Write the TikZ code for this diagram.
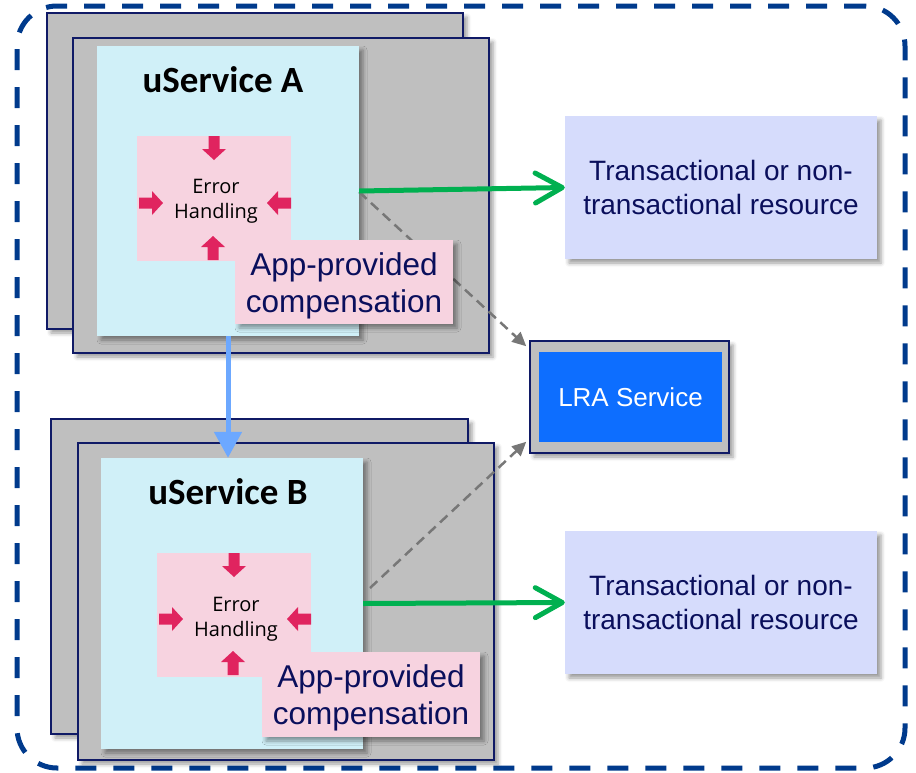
\documentclass[tikz,border=0pt]{standalone}
\usepackage{fontspec}
\setmainfont{Liberation Sans}
\newfontfamily\calfont{Carlito}
\newfontfamily\ehfont{Open Sans}
\usetikzlibrary{arrows.meta,shadows.blur,calc}
\definecolor{framenavy}{HTML}{003A8C}
\definecolor{boxedge}{HTML}{101A66}
\definecolor{grayfill}{HTML}{BFBFBF}
\definecolor{lightcyan}{HTML}{D0F0F8}
\definecolor{pinkfill}{HTML}{F7D3E0}
\definecolor{pinkarrow}{HTML}{E0245F}
\definecolor{textnavy}{HTML}{0A0F5C}
\definecolor{resfill}{HTML}{D6DCFC}
\definecolor{lrablue}{HTML}{0D6EFF}
\definecolor{greenarrow}{HTML}{00B050}
\definecolor{bluearrow}{HTML}{6CA8FF}
\definecolor{dashgray}{HTML}{777777}
\tikzset{
  shd/.style={blur shadow={shadow xshift=4pt,shadow yshift=-4pt,shadow blur radius=4pt}},
  gbox/.style={draw=boxedge,fill=grayfill,line width=1.5pt,inner sep=0pt,shd},
  cbox/.style={fill=lightcyan,inner sep=0pt,shd},
  pbox/.style={fill=pinkfill,inner sep=0pt},
  appbox/.style={fill=pinkfill,inner sep=0pt,shd},
  apptext/.style={text=textnavy,align=center,inner sep=0pt,
    font=\fontsize{31.5}{37}\selectfont},
  resbox/.style={fill=resfill,inner sep=0pt,shd,text=textnavy,align=center,
    font=\fontsize{28}{34}\selectfont},
  titletext/.style={font=\calfont\bfseries\fontsize{37}{42}\selectfont,inner sep=0pt},
  ehtext/.style={font=\ehfont\fontsize{20}{25}\selectfont,align=center,inner sep=0pt},
  perr/.pic={\fill[pinkarrow] (-5.5,0) -- (5.5,0) -- (5.5,13) -- (12,13) -- (0,24) -- (-12,13) -- (-5.5,13) -- cycle;},
  greenline/.style={draw=greenarrow,line width=5pt,
    -{Straight Barb[length=27pt,width=30pt,line cap=round,line join=round]}},
  blueline/.style={draw=bluearrow,line width=5pt,-{Triangle[length=26pt,width=27pt]}},
  grayline/.style={draw=dashgray,line width=2.5pt,dash pattern=on 10pt off 6pt,
    -{Triangle[length=14pt,width=13pt]}},
}
\begin{document}
\begin{tikzpicture}[x=1pt,y=-1pt]
\useasboundingbox (0,0) rectangle (916,772);
% outer frame
\node[name=frame,draw=framenavy,line width=5pt,dash pattern=on 21pt off 17pt,
  rounded corners=40pt,minimum width=888pt,minimum height=762pt,inner sep=0pt] at (461,387) {};
% block A
\node[gbox,minimum width=416pt,minimum height=316pt] (backA) at (255,171) {};
\node[gbox,minimum width=416pt,minimum height=315pt] (frontA) at (281,195.5) {};
\node[cbox,minimum width=262pt,minimum height=290pt] (uA) at (228,191) {};
% block B
\node[gbox,minimum width=417pt,minimum height=315pt] (backB) at (259.5,576.5) {};
\node[gbox,minimum width=416pt,minimum height=317pt] (frontB) at (286,601.5) {};
\node[cbox,minimum width=262pt,minimum height=291pt] (uB) at (232,603.5) {};
% resources and LRA
\node[resbox,minimum width=312pt,minimum height=143pt] (tA) at (721,187.5) {Transactional or non-\\transactional resource};
\node[resbox,minimum width=312pt,minimum height=143pt] (tB) at (721,602.5) {Transactional or non-\\transactional resource};
\node[gbox,minimum width=199pt,minimum height=112pt] (lra) at (629.5,397) {};
\node[fill=lrablue,minimum width=183pt,minimum height=90pt,inner sep=0pt,text=white,
  font=\fontsize{26}{30}\selectfont] (lrain) at (630.5,397) {LRA Service};
% dashed connectors to LRA
\coordinate (dA) at ($(uA.east)+(0,1)$);
\coordinate (dB) at (370,588);
\coordinate (eB) at ($(lra.south west)+(-3,-12)$);
\draw[grayline] (dA) -- ($(lra.north west)+(-3,6)$);
\draw[grayline] (dB) -- (eB);
% titles
\node[titletext] (titleA) at (223,80) {uService A};
\node[titletext] (titleB) at (228,492) {uService B};
% error handling A
\node[pbox,minimum width=154pt,minimum height=125pt] (pinkA) at (214,198.5) {};
\node[ehtext] (ehA) at (216,201) {Error\\Handling};
\pic at (214,136) {perr};
\pic[rotate=90] at (139,203) {perr};
\pic[rotate=-90] at (291,203) {perr};
\pic[rotate=180] at (213,260) {perr};
\node[appbox,minimum width=218pt,minimum height=84pt] (appA) at (344,282) {};
\node[apptext] (appAt) at (344,286) {App-provided\\compensation};
% error handling B
\node[pbox,minimum width=154pt,minimum height=124pt] (pinkB) at (234,615) {};
\node[ehtext] (ehB) at (236,619) {Error\\Handling};
\pic at (234,553) {perr};
\pic[rotate=90] at (159,619) {perr};
\pic[rotate=-90] at (311,619) {perr};
\pic[rotate=180] at (233,675) {perr};
\node[appbox,minimum width=218pt,minimum height=85pt] (appB) at (371,694.5) {};
\node[apptext] (appBt) at (371,698) {App-provided\\compensation};
% connectors
\draw[greenline] (uA.east) -- (tA.west);
\draw[greenline] (uB.east) -- (tB.west);
\draw[blueline] (uA.south) -- (uA.south |- uB.north);
\end{tikzpicture}
\end{document}
